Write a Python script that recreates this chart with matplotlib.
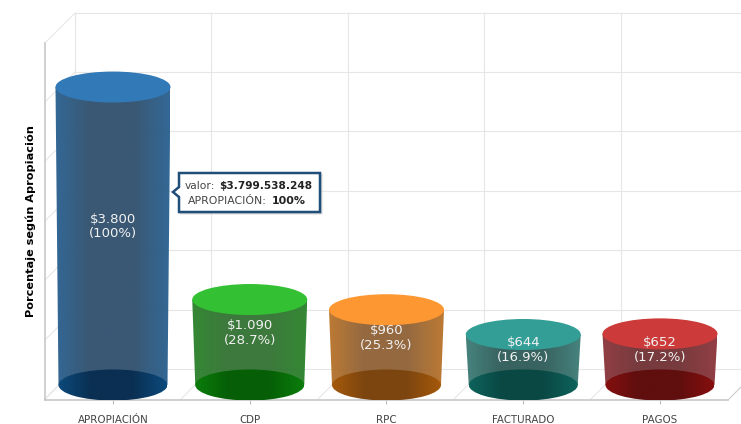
#!/usr/bin/env python
# Presupuesto: 3D looking cylinders, value axis hidden, back wall drawn by hand.

import numpy as np
import matplotlib
matplotlib.use('Agg')
import matplotlib.pyplot as plt
from matplotlib.colors import LinearSegmentedColormap
from matplotlib.lines import Line2D
from matplotlib.patches import Ellipse, Polygon

categories = ['APROPIACIÓN', 'CDP', 'RPC', 'FACTURADO', 'PAGOS']
values = [3799.5, 1090, 960, 644, 652]
value_labels = ['$3.800', '$1.090', '$960', '$644', '$652']
pct_labels = ['(100%)', '(28.7%)', '(25.3%)', '(16.9%)', '(17.2%)']

top_colors = ['#3279b8', '#33c133', '#fd9732', '#339e96', '#cd3a3a']
side_edge = ['#286090', '#298229', '#b87329', '#3d7c77', '#8c343a']
side_mid = ['#2f4f6c', '#327232', '#8f6136', '#2d5b57', '#703033']
base_edge = ['#0c4a7c', '#0b7d0b', '#a5590a', '#0e635c', '#860f0f']
base_mid = ['#0a2f52', '#065f06', '#7c4510', '#0a4844', '#600e0e']

W, H = 741, 424
fig = plt.figure(figsize=(W / 100, H / 100), dpi=100, facecolor='white')
plt.rcParams['font.family'] = 'DejaVu Sans'

# Back wall and floor, in pixels of the picture
bg = fig.add_axes([0, 0, 1, 1], xlim=(0, W), ylim=(H, 0))
bg.set_axis_off()
grid_c = '#e6e6e6'
for gy in [13, 72, 131, 191, 250, 310, 369]:
    bg.add_line(Line2D([75, W], [gy, gy], color=grid_c, lw=0.8))
    bg.add_line(Line2D([75, 45], [gy, gy + 30], color=grid_c, lw=0.8))
for gx in [75, 211, 348, 484, 621]:
    bg.add_line(Line2D([gx, gx], [13, 369], color=grid_c, lw=0.8))
    bg.add_line(Line2D([gx, gx - 30], [369, 399], color=grid_c, lw=0.8))
bg.add_line(Line2D([728, 741], [400, 387], color='#cccccc', lw=0.8))

# Main axes: categories along x, values along y
px_left, px_right, px_top, px_bottom = 45, 728, 43, 400
cat_step = 136.75
cat0 = 113
base_px = 385
per_px = 3800 / 298.0  # value units in one pixel

ax = fig.add_axes([px_left / W, 1 - px_bottom / H,
                   (px_right - px_left) / W, (px_bottom - px_top) / H])
ax.patch.set_alpha(0)
ax.set_xticks(range(len(categories)))
ax.set_xticklabels(categories, fontsize=7.4, color='#444444')
ax.set_yticks([])
ax.tick_params(axis='x', length=3, width=0.8, color='#bbbbbb', pad=7.5)
for s in ['top', 'right']:
    ax.spines[s].set_visible(False)
for s in ['left', 'bottom']:
    ax.spines[s].set_color('#c4c4c4')
    ax.spines[s].set_linewidth(1.1)
ax.set_ylabel('Porcentaje según Apropiación', fontsize=8.1, fontweight='bold',
              color='black', labelpad=6.5)

ew_top = 57.5 / cat_step
ew_base = 54.5 / cat_step
eh = 15.5 * per_px
gradient = np.linspace(0, 1, 256).reshape(1, -1)

for i, v in enumerate(values):
    # side of the cylinder, flat in the middle and lighter towards the rims
    cm = LinearSegmentedColormap.from_list(
        'side', [(0, side_edge[i]), (0.3, side_mid[i]), (0.68, side_mid[i]),
                 (1, side_edge[i])])
    side = Polygon([(i - ew_top, v), (i + ew_top, v),
                    (i + ew_base, 0), (i - ew_base, 0)],
                   closed=True, transform=ax.transData, fc='none', ec='none')
    ax.add_patch(side)
    im = ax.imshow(gradient, cmap=cm, aspect='auto', alpha=0.95, zorder=2,
                   extent=(i - ew_top, i + ew_top, 0, v))
    im.set_clip_path(side)
    # base
    cm = LinearSegmentedColormap.from_list(
        'base', [(0, base_edge[i]), (0.3, base_mid[i]), (0.68, base_mid[i]),
                 (1, base_edge[i])])
    base = Ellipse((i, 0), 2 * ew_base, 2 * eh, transform=ax.transData,
                   fc='none', ec='none')
    ax.add_patch(base)
    im = ax.imshow(gradient, cmap=cm, aspect='auto', zorder=3,
                   extent=(i - ew_base, i + ew_base, -eh, eh))
    im.set_clip_path(base)
    # top
    ax.add_patch(Ellipse((i, v), 2 * ew_top, 2 * eh, fc=top_colors[i], ec='none',
                         zorder=4))
    # label sits a bit above the middle of the cylinder
    y_lab = v / 2 + 9.5 * per_px
    ax.text(i, y_lab, value_labels[i] + '\n' + pct_labels[i], ha='center',
            va='center', color='#f2f2f2', fontsize=9.5, linespacing=1.15, zorder=6)

ax.set_xlim((px_left - cat0) / cat_step, (px_right - cat0) / cat_step)
ax.set_ylim((base_px - px_bottom) * per_px, (base_px - px_top) * per_px)

# Tooltip on top, in pixels
tip = fig.add_axes([0, 0, 1, 1], xlim=(0, W), ylim=(H, 0), zorder=10)
tip.set_axis_off()
tip.patch.set_alpha(0)
box = [(179, 173), (320, 173), (320, 212), (179, 212), (179, 197), (173, 192), (179, 187)]
shadow = [(x + 1.5, y + 1.5) for x, y in box]
tip.add_patch(Polygon(shadow, closed=True, fc='#bbbbbb', ec='#bbbbbb', lw=1.5, alpha=0.5))
tip.add_patch(Polygon(box, closed=True, fc='white', ec='#1f4e79', lw=1.8))
tip.text(215, 186, 'valor:', ha='right', va='center', fontsize=7.7, color='#444444')
tip.text(219, 186, '$3.799.538.248', ha='left', va='center', fontsize=7.6,
         fontweight='bold', color='#222222')
tip.text(267, 201, 'APROPIACIÓN:', ha='right', va='center', fontsize=7.8, color='#444444')
tip.text(272, 201, '100%', ha='left', va='center', fontsize=7.9,
         fontweight='bold', color='#222222')

fig.savefig('out.png', dpi=100)
